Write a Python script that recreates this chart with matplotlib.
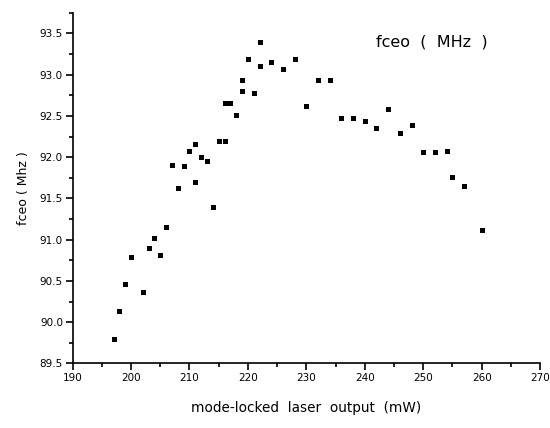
import matplotlib
matplotlib.use("Agg")
import matplotlib.pyplot as plt
from matplotlib.ticker import MultipleLocator

# laser output (mW) vs fceo (MHz)
power = [197, 198, 199, 200, 202, 203, 204, 205, 206, 207, 208, 209, 210,
         211, 211, 212, 213, 214, 215, 216, 216, 217, 218, 219, 219, 220,
         221, 222, 222, 224, 226, 228, 230, 232, 234, 236, 238, 240, 242,
         244, 246, 248, 250, 252, 254, 255, 257, 260]
fceo = [89.80, 90.13, 90.46, 90.79, 90.37, 90.90, 91.02, 90.81, 91.15, 91.91,
        91.63, 91.89, 92.07, 92.16, 91.70, 92.00, 91.95, 91.39, 92.20, 92.20,
        92.66, 92.66, 92.51, 92.93, 92.80, 93.19, 92.78, 93.40, 93.11, 93.15,
        93.07, 93.19, 92.62, 92.93, 92.93, 92.48, 92.48, 92.44, 92.35, 92.58,
        92.29, 92.39, 92.06, 92.06, 92.07, 91.76, 91.65, 91.12]

fig = plt.figure(figsize=(5.5, 4.28), dpi=100)
ax = fig.add_axes([0.132, 0.151, 0.850, 0.819])

ax.plot(power, fceo, linestyle="none", marker="s", markersize=3.6,
        color="black", markeredgewidth=0)

ax.set_xlim(190, 270)
ax.set_ylim(89.5, 93.75)
ax.xaxis.set_major_locator(MultipleLocator(10))
ax.xaxis.set_minor_locator(MultipleLocator(5))
ax.yaxis.set_major_locator(MultipleLocator(0.5))
ax.yaxis.set_minor_locator(MultipleLocator(0.25))
ax.yaxis.set_major_formatter(matplotlib.ticker.FormatStrFormatter("%.1f"))

for side in ["top", "right"]:
    ax.spines[side].set_visible(False)
for side in ["left", "bottom"]:
    ax.spines[side].set_linewidth(1.2)

ax.tick_params(which="major", direction="out", length=5, width=1.2,
               labelsize=7.5, pad=2)
ax.tick_params(which="minor", direction="out", length=3, width=1.2)

ax.set_xlabel("mode-locked  laser  output  (mW)", fontsize=9.8, labelpad=13)
ax.set_ylabel("fceo ( Mhz )", fontsize=9, labelpad=7)

ax.text(251.5, 93.40, "fceo  (  MHz  )", fontsize=11.5, ha="center", va="center")

fig.savefig("out.png", dpi=100)
